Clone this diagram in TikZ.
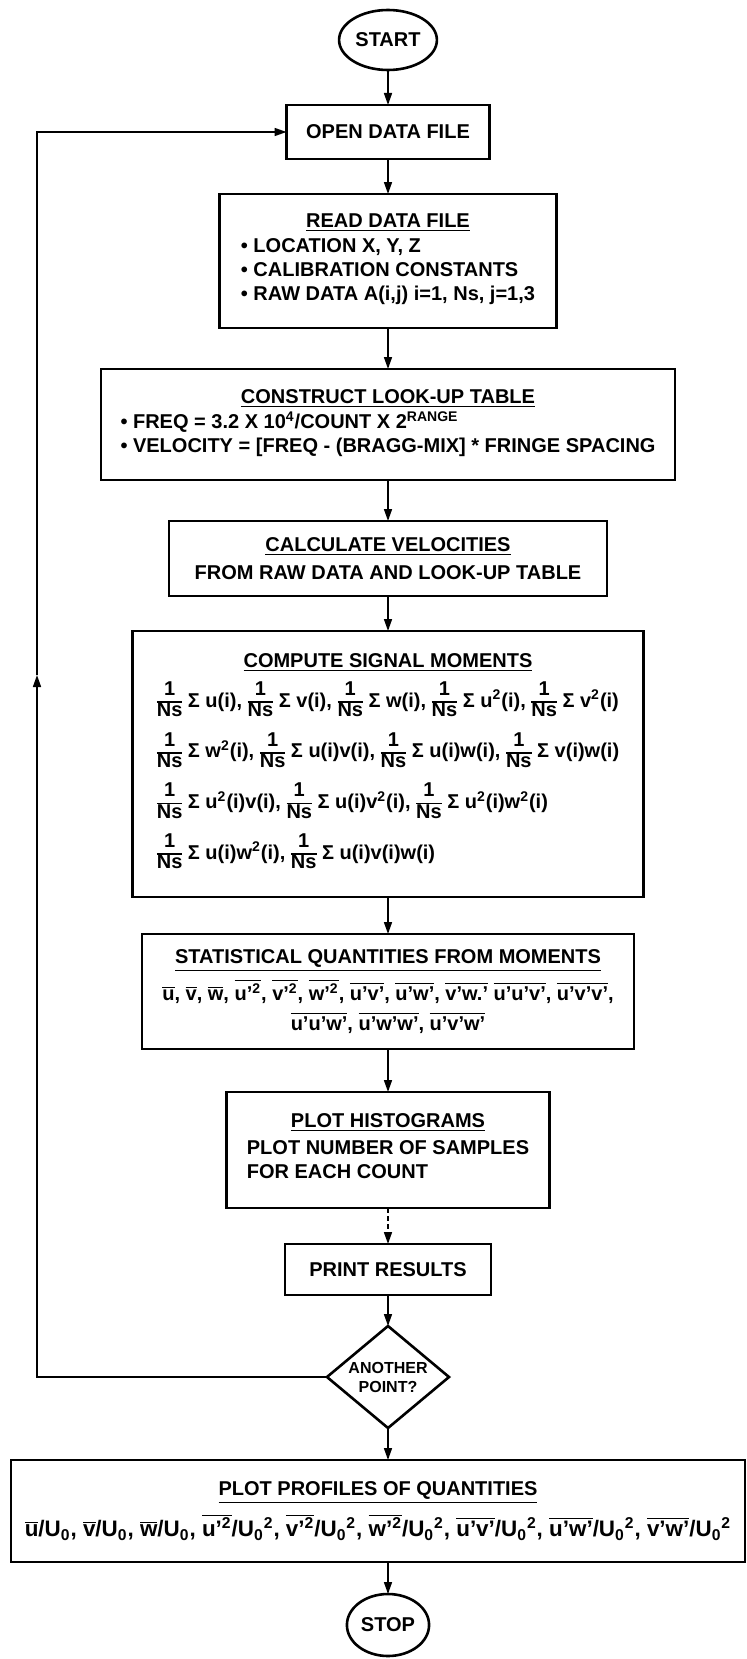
\documentclass[tikz,border=0pt]{standalone}
\usepackage{fontspec}
\setmainfont{Liberation Sans}
\usepackage{tikz}
\usetikzlibrary{arrows.meta, positioning, shapes.geometric}

\newcommand{\invns}{$\vcenter{\hbox{\renewcommand{\arraystretch}{0.82}\setlength{\arrayrulewidth}{0.8pt}\begin{tabular}{@{}c@{}}1\\\hline Ns\end{tabular}}}$}
\newcommand{\ovl}[1]{$\overline{\hbox{#1}}$}
\newcommand{\uo}{U\textsubscript{0}}

\begin{document}
\begin{tikzpicture}[
  node distance=17.5pt,
  box/.style={draw, line width=1.3pt, outer sep=0pt, align=center, font=\bfseries, inner sep=3pt},
  term/.style={draw, ellipse, line width=1.3pt, outer sep=0pt, font=\bfseries, inner sep=1pt},
  ask/.style={draw, diamond, line width=1.3pt, outer sep=0pt, align=center, font=\bfseries\footnotesize, inner sep=-3pt, aspect=1.2},
  arr/.style={-{Triangle[length=6pt, width=4pt]}, line width=0.8pt}]
\useasboundingbox (0,0) rectangle (373.5pt,-829.5pt);
\node[term, minimum width=43pt, minimum height=30pt] (start) at (194pt,-20pt) {START};
\node[box, below=of start, minimum width=101.5pt, minimum height=27pt] (open) {OPEN DATA FILE};
\node[box, below=of open, minimum width=168.5pt, minimum height=67pt] (read) {\underline{READ DATA FILE}\\[1pt]
  \begin{tabular}{@{}l@{}}\textbullet\ LOCATION X, Y, Z\\ \textbullet\ CALIBRATION CONSTANTS\\ \textbullet\ RAW DATA A(i,j) i=1, Ns, j=1,3\end{tabular}};
\node[box, below=20.5pt of read, minimum width=287pt, minimum height=55.5pt] (lut) {\underline{CONSTRUCT LOOK-UP TABLE}\\[1pt]
  \begin{tabular}{@{}l@{}}\textbullet\ FREQ = 3.2 X 10\textsuperscript{4}/COUNT X 2\textsuperscript{RANGE}\\ \textbullet\ VELOCITY = [FREQ - (BRAGG-MIX] * FRINGE SPACING\end{tabular}};
\node[box, below=20.5pt of lut, minimum width=219pt, minimum height=37.5pt] (calc) {\underline{CALCULATE VELOCITIES}\\[2pt] FROM RAW DATA AND LOOK-UP TABLE};
\node[box, below=of calc, minimum width=255.5pt, minimum height=133pt] (mom) {\underline{COMPUTE SIGNAL MOMENTS}\\[4pt]
  \begin{tabular}{@{}l@{}}
  \invns\ Σ u(i), \invns\ Σ v(i), \invns\ Σ w(i), \invns\ Σ u\textsuperscript{2}(i), \invns\ Σ v\textsuperscript{2}(i)\\[9pt]
  \invns\ Σ w\textsuperscript{2}(i), \invns\ Σ u(i)v(i), \invns\ Σ u(i)w(i), \invns\ Σ v(i)w(i)\\[9pt]
  \invns\ Σ u\textsuperscript{2}(i)v(i), \invns\ Σ u(i)v\textsuperscript{2}(i), \invns\ Σ u\textsuperscript{2}(i)w\textsuperscript{2}(i)\\[9pt]
  \invns\ Σ u(i)w\textsuperscript{2}(i), \invns\ Σ u(i)v(i)w(i)
  \end{tabular}};
\node[box, below=18.5pt of mom, minimum width=246pt, minimum height=57.5pt] (stat) {\underline{STATISTICAL QUANTITIES FROM MOMENTS}\\[3pt]
  \ovl{u}, \ovl{v}, \ovl{w}, \ovl{u’\textsuperscript{2}}, \ovl{v’\textsuperscript{2}}, \ovl{w’\textsuperscript{2}}, \ovl{u’v’}, \ovl{u’w’}, \ovl{v’w.’} \ovl{u’u’v’}, \ovl{u’v’v’},\\[3pt]
  \ovl{u’u’w’}, \ovl{u’w’w’}, \ovl{u’v’w’}};
\node[box, below=21.5pt of stat, minimum width=161.5pt, minimum height=58pt] (hist) {\underline{PLOT HISTOGRAMS}\\[2pt]
  \begin{tabular}{@{}l@{}}PLOT NUMBER OF SAMPLES\\ FOR EACH COUNT\end{tabular}};
\node[box, below=18pt of hist, minimum width=103pt, minimum height=25.5pt] (print) {PRINT RESULTS};
\node[ask, below=15.5pt of print, minimum width=61pt, minimum height=51pt] (more) {ANOTHER\\POINT?};
\node[box, below=16pt of more, xshift=-5pt, minimum width=367pt, minimum height=51pt] (prof) {\underline{PLOT PROFILES OF QUANTITIES}\\[4pt]
  {\fontsize{11.2}{13}\selectfont\ovl{u}/\uo, \ovl{v}/\uo, \ovl{w}/\uo, \ovl{u’\textsuperscript{2}}/\uo\textsuperscript{2}, \ovl{v’\textsuperscript{2}}/\uo\textsuperscript{2}, \ovl{w’\textsuperscript{2}}/\uo\textsuperscript{2}, \ovl{u’v’}/\uo\textsuperscript{2}, \ovl{u’w’}/\uo\textsuperscript{2}, \ovl{v’w’}/\uo\textsuperscript{2}}};
\node[term, below=16pt of prof.south -| more.south, minimum width=31pt, minimum height=31pt] (stop) {STOP};
\coordinate (back) at (18.5pt,-337.5pt);
\draw[arr] (start) -- (open);
\draw[arr] (open) -- (read);
\draw[arr] (read) -- (lut);
\draw[arr] (lut) -- (calc);
\draw[arr] (calc) -- (mom);
\draw[arr] (mom) -- (stat);
\draw[arr] (stat) -- (hist);
\draw[arr, dash pattern=on 2.5pt off 1.5pt] (hist) -- (print);
\draw[arr] (print) -- (more);
\draw[arr] (more) -- (more |- prof.north);
\draw[arr] (prof.south -| stop) -- (stop);
\draw[arr] (more.west) -| (back);
\draw[arr] (back) |- (open.west);
\end{tikzpicture}
\end{document}
